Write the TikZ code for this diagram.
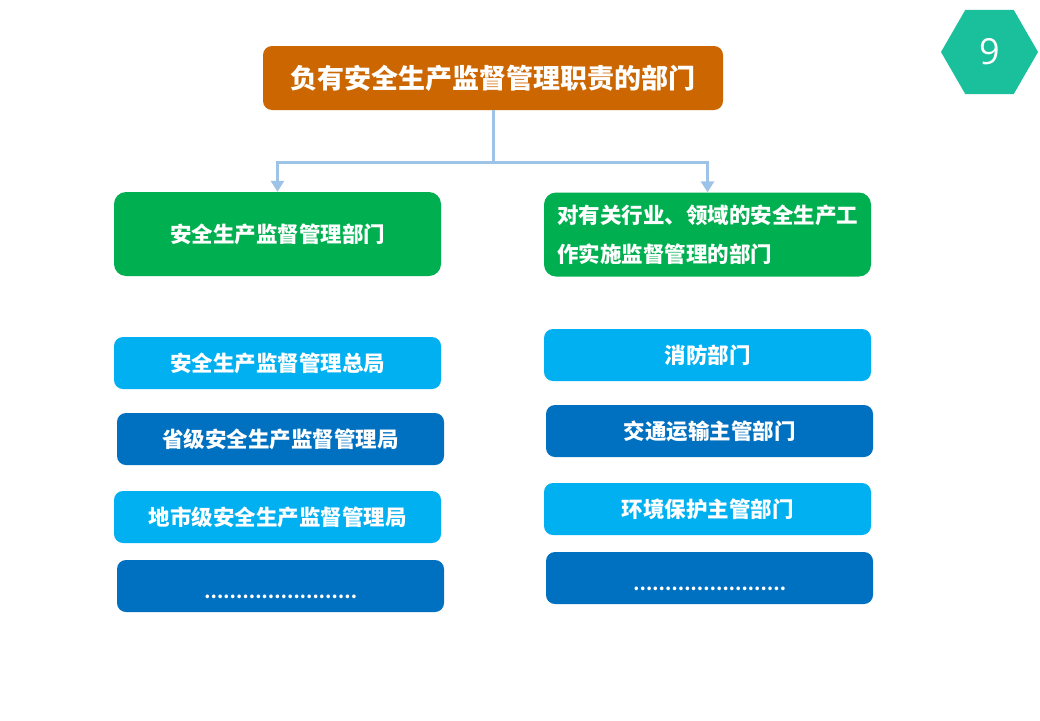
\documentclass[tikz,border=0pt]{standalone}
\usepackage{fontspec}
\setmainfont{Noto Sans CJK SC}
\newfontfamily\numfont{Open Sans}
\usetikzlibrary{positioning,shapes.geometric,arrows.meta}
\definecolor{deptorange}{HTML}{CC6600}
\definecolor{deptgreen}{HTML}{00B050}
\definecolor{lightblue}{HTML}{00B0F0}
\definecolor{darkblue}{HTML}{0070C0}
\definecolor{linkblue}{HTML}{9DC3E6}
\definecolor{hexgreen}{HTML}{1ABF9C}
\tikzset{
  box/.style={rounded corners=9pt, text=white, inner sep=0pt,
    font=\bfseries\fontsize{21.5}{26}\selectfont,
    minimum width=327pt, minimum height=52pt},
  topbox/.style={box, fill=deptorange, minimum width=460pt, minimum height=64pt,
    font=\bfseries\fontsize{27}{30}\selectfont},
  headbox/.style={box, fill=deptgreen, minimum height=84pt, rounded corners=12pt},
  lightitem/.style={box, fill=lightblue},
  darkitem/.style={box, fill=darkblue},
  link/.style={draw=linkblue, line width=3pt},
  linkarrow/.style={link, -{Triangle[width=13pt,length=11pt]}}
}
\newcommand{\moredots}{\raisebox{-12pt}[0pt][0pt]{\fontsize{17}{20}\selectfont ……………………}}

\begin{document}
\begin{tikzpicture}[x=1pt, y=-1pt]
    \useasboundingbox (0,0) rectangle (1040,720);

    % page number
    \node[regular polygon, regular polygon sides=6, fill=hexgreen, draw=none,
          minimum size=97pt, inner sep=0pt, text=white,
          font=\numfont\fontsize{36}{36}\selectfont] (page) at (989.5,52) {9};

    % top level
    \node[topbox] (top) at (493,78) {负有安全生产监督管理职责的部门};

    % two branches
    \node[headbox] (headL) at (277.5,234) {\raisebox{-1.5pt}{安全生产监督管理部门}};
    \node[headbox, text width=310pt, inner xsep=8.5pt, align=left,
          font=\bfseries\fontsize{21.5}{39}\selectfont] (headR) at (707.5,234.5)
          {\hspace*{4.5pt}对有关行业、领域的安全生产工\\\hspace*{4.5pt}作实施监督管理的部门};

    \path (top.south) ++(0,52) coordinate (fork);
    \draw[link] (top.south) -- (fork);
    \draw[linkarrow] (fork) -| (headL.north);
    \draw[linkarrow] (fork) -| (headR.north);

    % left column
    \node[lightitem] (safeA) at (277.5,363) {安全生产监督管理总局};
    \node[darkitem]  (safeB) at (280.5,439) {省级安全生产监督管理局};
    \node[lightitem] (safeC) at (277.5,517) {地市级安全生产监督管理局};
    \node[darkitem]  (safeD) at (280.5,586) {\moredots};

    % right column
    \node[lightitem] (sectA) at (707.5,355) {消防部门};
    \node[darkitem]  (sectB) at (709.5,431) {交通运输主管部门};
    \node[lightitem] (sectC) at (707.5,509) {环境保护主管部门};
    \node[darkitem]  (sectD) at (709.5,578) {\moredots};
\end{tikzpicture}
\end{document}
